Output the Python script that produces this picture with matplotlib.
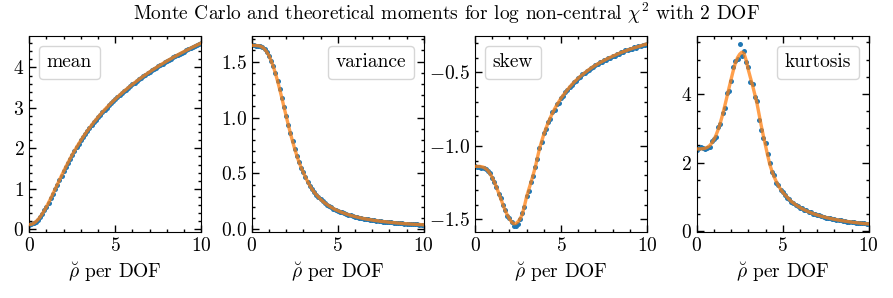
import matplotlib
matplotlib.use('Agg')
import matplotlib.pyplot as plt
from matplotlib.lines import Line2D
from matplotlib.ticker import AutoMinorLocator, MultipleLocator

# rho-breve per DOF grid (theory line and Monte Carlo points share it)
rho = [0.0, 0.125, 0.25, 0.375, 0.5, 0.625, 0.75, 0.875, 1.0, 1.125,
       1.25, 1.375, 1.5, 1.625, 1.75, 1.875, 2.0, 2.125, 2.25, 2.375,
       2.5, 2.625, 2.75, 2.875, 3.0, 3.125, 3.25, 3.375, 3.5, 3.625,
       3.75, 3.875, 4.0, 4.125, 4.25, 4.375, 4.5, 4.625, 4.75, 4.875,
       5.0, 5.125, 5.25, 5.375, 5.5, 5.625, 5.75, 5.875, 6.0, 6.125,
       6.25, 6.375, 6.5, 6.625, 6.75, 6.875, 7.0, 7.125, 7.25, 7.375,
       7.5, 7.625, 7.75, 7.875, 8.0, 8.125, 8.25, 8.375, 8.5, 8.625,
       8.75, 8.875, 9.0, 9.125, 9.25, 9.375, 9.5, 9.625, 9.75, 9.875, 10.0]

# mean / variance: MC points lie on the theory curve
mean_vals = [0.116, 0.124, 0.147, 0.185, 0.237, 0.302, 0.379, 0.465, 0.560, 0.661,
             0.768, 0.878, 0.990, 1.102, 1.215, 1.326, 1.435, 1.544, 1.646, 1.747,
             1.844, 1.938, 2.028, 2.115, 2.199, 2.280, 2.358, 2.433, 2.506, 2.576,
             2.644, 2.709, 2.773, 2.834, 2.894, 2.952, 3.008, 3.063, 3.116, 3.168,
             3.219, 3.268, 3.317, 3.364, 3.410, 3.454, 3.498, 3.541, 3.584, 3.625,
             3.665, 3.705, 3.744, 3.782, 3.819, 3.856, 3.892, 3.927, 3.962, 3.996,
             4.030, 4.063, 4.095, 4.127, 4.159, 4.190, 4.220, 4.251, 4.280, 4.309,
             4.338, 4.367, 4.394, 4.422, 4.449, 4.476, 4.503, 4.529, 4.555, 4.580, 4.605]

var_vals = [1.645, 1.645, 1.644, 1.642, 1.638, 1.628, 1.612, 1.586, 1.554, 1.509,
            1.458, 1.396, 1.328, 1.253, 1.175, 1.094, 1.014, 0.935, 0.858, 0.786,
            0.719, 0.657, 0.600, 0.552, 0.509, 0.466, 0.427, 0.392, 0.360, 0.334,
            0.310, 0.289, 0.269, 0.252, 0.236, 0.222, 0.209, 0.197, 0.186, 0.176,
            0.167, 0.159, 0.151, 0.144, 0.137, 0.131, 0.125, 0.120, 0.114, 0.110,
            0.105, 0.101, 0.097, 0.093, 0.090, 0.087, 0.083, 0.080, 0.078, 0.075,
            0.072, 0.070, 0.068, 0.066, 0.064, 0.062, 0.060, 0.058, 0.056, 0.055,
            0.053, 0.051, 0.050, 0.049, 0.047, 0.046, 0.045, 0.044, 0.043, 0.042, 0.040]

skew_theory = [-1.140, -1.140, -1.140, -1.142, -1.146, -1.156, -1.169, -1.190, -1.215, -1.246,
               -1.282, -1.320, -1.360, -1.400, -1.438, -1.470, -1.496, -1.517, -1.530, -1.528,
               -1.516, -1.496, -1.466, -1.410, -1.346, -1.298, -1.250, -1.200, -1.148, -1.083,
               -1.020, -0.970, -0.923, -0.882, -0.844, -0.810, -0.779, -0.750, -0.724, -0.700,
               -0.677, -0.657, -0.638, -0.619, -0.601, -0.585, -0.569, -0.555, -0.541, -0.528,
               -0.516, -0.504, -0.493, -0.482, -0.472, -0.462, -0.453, -0.444, -0.436, -0.428,
               -0.420, -0.412, -0.405, -0.398, -0.391, -0.385, -0.378, -0.372, -0.366, -0.360,
               -0.355, -0.349, -0.344, -0.339, -0.334, -0.330, -0.325, -0.321, -0.316, -0.312, -0.308]

skew_mc = [-1.137, -1.146, -1.141, -1.149, -1.150, -1.158, -1.174, -1.186, -1.222, -1.249,
           -1.279, -1.328, -1.357, -1.405, -1.436, -1.478, -1.492, -1.521, -1.548, -1.542,
           -1.531, -1.500, -1.459, -1.418, -1.339, -1.305, -1.244, -1.207, -1.141, -1.090,
           -1.013, -0.976, -0.916, -0.889, -0.839, -0.816, -0.773, -0.755, -0.719, -0.706,
           -0.672, -0.662, -0.634, -0.624, -0.597, -0.589, -0.566, -0.559, -0.537, -0.532,
           -0.513, -0.508, -0.490, -0.486, -0.469, -0.466, -0.450, -0.447, -0.433, -0.431,
           -0.417, -0.415, -0.402, -0.401, -0.388, -0.388, -0.375, -0.375, -0.363, -0.363,
           -0.352, -0.352, -0.341, -0.342, -0.331, -0.332, -0.322, -0.323, -0.313, -0.314, -0.305]

kurt_theory = [2.400, 2.400, 2.401, 2.407, 2.420, 2.450, 2.497, 2.570, 2.671, 2.805,
               2.968, 3.165, 3.389, 3.640, 3.901, 4.170, 4.429, 4.680, 4.905, 5.060,
               5.158, 5.215, 5.176, 4.980, 4.703, 4.470, 4.240, 3.990, 3.735, 3.410,
               3.080, 2.780, 2.494, 2.210, 1.947, 1.750, 1.587, 1.450, 1.329, 1.227,
               1.138, 1.065, 1.000, 0.932, 0.870, 0.822, 0.776, 0.734, 0.694, 0.661,
               0.628, 0.598, 0.569, 0.545, 0.521, 0.499, 0.477, 0.459, 0.440, 0.423,
               0.406, 0.392, 0.378, 0.364, 0.351, 0.339, 0.328, 0.317, 0.306, 0.297,
               0.288, 0.279, 0.270, 0.262, 0.255, 0.247, 0.240, 0.233, 0.227, 0.221, 0.215]

kurt_mc = [2.37, 2.42, 2.47, 2.44, 2.40, 2.43, 2.47, 2.63, 2.70, 2.76,
           3.05, 3.12, 3.46, 3.58, 4.02, 4.10, 4.38, 4.78, 4.96, 5.02,
           5.46, 5.10, 5.24, 4.92, 4.78, 4.36, 4.30, 3.90, 3.80, 3.25,
           2.96, 2.72, 2.56, 2.24, 1.98, 1.72, 1.63, 1.41, 1.34, 1.20,
           1.16, 1.05, 0.98, 0.95, 0.86, 0.83, 0.76, 0.75, 0.68, 0.67,
           0.62, 0.61, 0.56, 0.55, 0.51, 0.50, 0.47, 0.47, 0.44, 0.42,
           0.40, 0.39, 0.38, 0.37, 0.35, 0.34, 0.32, 0.32, 0.30, 0.30,
           0.28, 0.28, 0.27, 0.26, 0.25, 0.25, 0.24, 0.23, 0.23, 0.22, 0.21]

names = ['mean', 'variance', 'skew', 'kurtosis']

plt.rcParams['font.family'] = 'serif'
plt.rcParams['font.serif'] = ['cmr10']
plt.rcParams['mathtext.fontset'] = 'cm'
plt.rcParams['axes.formatter.use_mathtext'] = True
plt.rcParams['font.size'] = 14

fig = plt.figure(figsize=(8.93, 2.98), dpi=100)

panels = [
    (mean_vals, mean_vals, 1.0, (-0.06, 4.78), 'upper left'),
    (var_vals, var_vals, 0.5, (-0.021, 1.73), 'upper right'),
    (skew_mc, skew_theory, 0.5, (-1.584, -0.253), 'upper left'),
    (kurt_mc, kurt_theory, 2.0, (-0.01, 5.69), 'upper right'),
]
lefts = [0.0328, 0.2819, 0.5319, 0.7802]

for i, (mc, th, ystep, ylim, loc) in enumerate(panels):
    ax = fig.add_axes([lefts[i], 0.2225, 0.1926, 0.657])
    ax.plot(rho, mc, 'o', ms=3.6, mew=0, color='#1f77b4', zorder=2)
    ax.plot(rho, th, '-', lw=2.4, color='#ff7f0e', alpha=0.75, zorder=3)
    ax.set_xlim(0, 10)
    ax.set_ylim(*ylim)
    ax.xaxis.set_major_locator(MultipleLocator(5))
    ax.yaxis.set_major_locator(MultipleLocator(ystep))
    ax.xaxis.set_minor_locator(AutoMinorLocator())
    ax.yaxis.set_minor_locator(AutoMinorLocator())
    ax.tick_params(which='both', direction='in', top=True, right=True, width=1)
    ax.tick_params(which='major', length=5)
    ax.tick_params(which='minor', length=2.5)
    ax.set_xlabel(r'$\breve{\rho}$ per DOF')
    ax.legend([Line2D([], [], ls='none')], [names[i]], loc=loc,
              handlelength=0, handletextpad=0)

fig.text(0.5, 0.955, r'Monte Carlo and theoretical moments for log non-central $\chi^2$ with 2 DOF',
         ha='center', va='center')

fig.savefig('out.png', dpi=100)
